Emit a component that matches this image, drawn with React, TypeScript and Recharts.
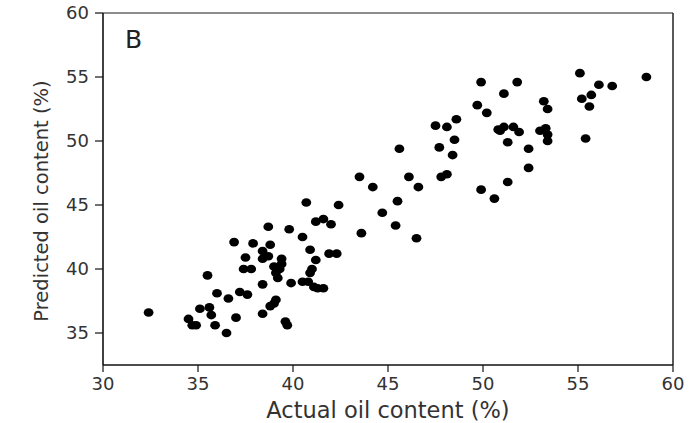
import React from 'react';
import {
  ScatterChart,
  Scatter,
  XAxis,
  YAxis,
  ReferenceLine,
  Label,
} from 'recharts';

// actual oil content (%) vs predicted oil content (%)
const actual = [
  32.4, 34.5, 34.7, 34.9, 35.1, 35.6, 35.7, 35.5, 35.9, 36.0,
  36.6, 36.5, 37.0, 36.9, 37.2, 37.6, 37.5, 37.4, 37.8, 37.9,
  38.4, 38.4, 38.7, 38.4, 38.4, 38.7, 38.8, 38.8, 39.0, 39.1,
  39.0, 39.1, 39.2, 39.4, 39.4, 39.3, 39.6, 39.7, 39.8, 39.9,
  40.5, 40.7, 40.9, 41.0, 40.9, 41.2, 40.5, 40.8, 41.1, 41.3,
  41.6, 41.2, 41.6, 42.0, 41.9, 42.3, 42.4,
  43.5, 44.2, 46.1, 46.6, 45.5, 44.7, 45.4, 43.6, 46.5, 45.6,
  47.8, 48.1, 47.5, 48.1, 48.6, 47.7, 48.5, 48.4, 49.9, 51.8,
  51.1, 49.7, 50.2, 49.9, 50.6, 51.3, 52.4, 52.4, 51.3, 50.8,
  51.1, 51.6, 51.9, 53.2, 53.4, 53.0, 53.3, 53.4, 53.4, 55.1,
  56.1, 56.8, 58.6, 55.2, 55.7, 55.6, 55.4, 50.9,
];

const predicted = [
  36.6, 36.1, 35.6, 35.6, 36.9, 37.0, 36.4, 39.5, 35.6, 38.1,
  37.7, 35.0, 36.2, 42.1, 38.2, 38.0, 40.9, 40.0, 40.0, 42.0,
  41.4, 40.8, 41.0, 38.8, 36.5, 43.3, 41.9, 37.1, 37.3, 37.6,
  40.2, 39.7, 39.3, 40.8, 40.4, 40.0, 35.9, 35.6, 43.1, 38.9,
  42.5, 45.2, 41.5, 40.0, 39.7, 40.7, 39.0, 39.0, 38.6, 38.5,
  38.5, 43.7, 43.9, 43.5, 41.2, 41.2, 45.0,
  47.2, 46.4, 47.2, 46.4, 45.3, 44.4, 43.4, 42.8, 42.4, 49.4,
  47.2, 47.4, 51.2, 51.1, 51.7, 49.5, 50.1, 48.9, 54.6, 54.6,
  53.7, 52.8, 52.2, 46.2, 45.5, 46.8, 47.9, 49.4, 49.9, 50.9,
  51.1, 51.1, 50.7, 53.1, 52.5, 50.8, 51.0, 50.5, 50.0, 55.3,
  54.4, 54.3, 55.0, 53.3, 53.6, 52.7, 50.2, 50.8,
];

const xTicks = [30, 35, 40, 45, 50, 55, 60];
const yTicks = [35, 40, 45, 50, 55, 60];

const points = actual.map((x, i) => ({ x, y: predicted[i] }));

const font = '"DejaVu Sans", Arial, sans-serif';
const tickStyle = { fontSize: 18, fill: '#333', fontFamily: font };

const Dot = (props: any) => {
  const { cx, cy } = props;
  return <ellipse cx={cx} cy={cy} rx={4.9} ry={4.3} fill="#000" />;
};

const YTitle = () => {
  const cx = 41;
  const cy = 201;
  return (
    <text
      x={cx}
      y={cy}
      transform={`rotate(-90, ${cx}, ${cy})`}
      textAnchor="middle"
      dominantBaseline="central"
      fontSize={19.5}
      fontFamily={font}
      fill="#333"
    >
      Predicted oil content (%)
    </text>
  );
};

export default function App() {
  return (
    <div
      style={{
        position: 'absolute',
        left: 0,
        top: 0,
        width: 692,
        height: 423,
        background: '#fff',
      }}
    >
      <ScatterChart
        width={692}
        height={423}
        margin={{ top: 13, right: 19, bottom: 0, left: 0 }}
      >
        <XAxis
          type="number"
          dataKey="x"
          domain={[30, 60]}
          ticks={xTicks}
          height={58}
          tick={tickStyle}
          tickSize={7}
          tickMargin={5}
          axisLine={{ stroke: '#111', strokeWidth: 1.6 }}
          tickLine={{ stroke: '#111', strokeWidth: 1.2 }}
        >
          <Label
            value="Actual oil content (%)"
            position="insideBottom"
            offset={5}
            style={{ fontSize: 22.5, fill: '#333', fontFamily: font }}
          />
        </XAxis>
        <YAxis
          type="number"
          dataKey="y"
          domain={[32.5, 60]}
          ticks={yTicks}
          width={103}
          tick={tickStyle}
          tickSize={8}
          tickMargin={6}
          axisLine={{ stroke: '#111', strokeWidth: 1.6 }}
          tickLine={{ stroke: '#111', strokeWidth: 1.2 }}
        >
          <Label content={<YTitle />} />
        </YAxis>
        <ReferenceLine y={60} stroke="#8c8c8c" strokeWidth={2.2} />
        <ReferenceLine x={60} stroke="#222" strokeWidth={1.5} />
        <Scatter data={points} shape={<Dot />} isAnimationActive={false} />
      </ScatterChart>
      <div
        style={{
          position: 'absolute',
          left: 125,
          top: 25,
          fontSize: 25,
          lineHeight: '30px',
          fontFamily: font,
          color: '#222',
        }}
      >
        B
      </div>
    </div>
  );
}
